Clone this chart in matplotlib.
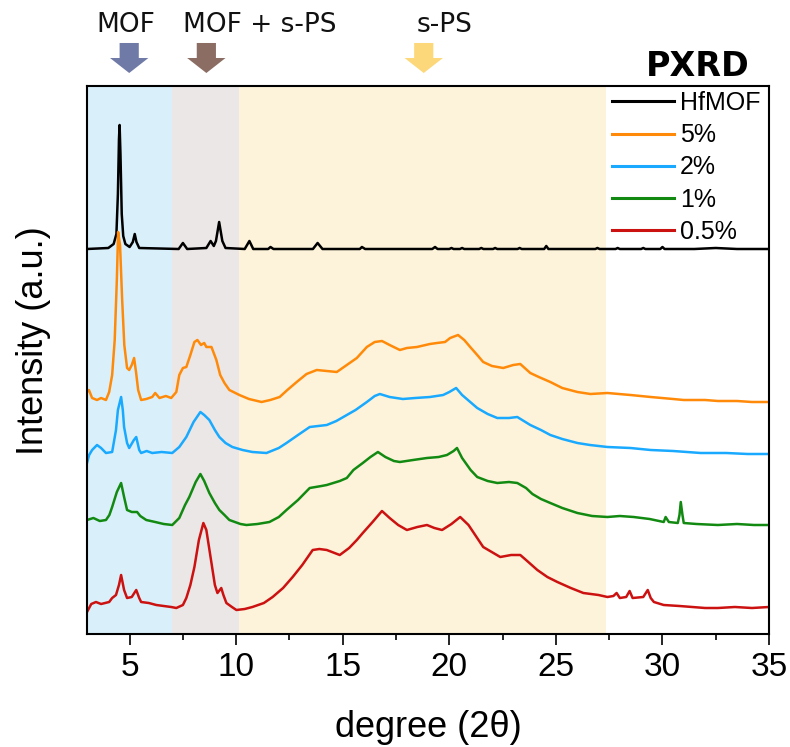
import matplotlib
matplotlib.use("Agg")
import matplotlib.pyplot as plt
from matplotlib.patches import FancyArrow
from matplotlib.ticker import MultipleLocator
import matplotlib.transforms as mtransforms

# ── Data (2θ in degrees, intensity in a.u., offset traces) ──

hfmof_x = [3.0, 4.0, 4.25, 4.38, 4.45, 4.5, 4.53, 4.57, 4.63, 4.7, 4.8, 5.0,
           5.15, 5.24, 5.32, 5.45, 7.3, 7.5, 7.7, 8.6, 8.8, 8.95, 9.05, 9.2,
           9.35, 9.5, 10.4, 10.62, 10.8, 11.5, 11.61, 11.75, 13.6, 13.82, 14.05,
           15.8, 15.9, 16.05, 19.2, 19.33, 19.45, 20.0, 20.1, 20.2, 20.5, 20.6,
           20.7, 21.4, 21.5, 21.6, 22.05, 22.15, 22.25, 23.2, 23.3, 23.4, 24.45,
           24.55, 24.65, 26.85, 26.95, 27.05, 27.8, 27.9, 28.0, 29.0, 29.1, 29.2,
           29.9, 30.0, 30.1, 31.5, 32.5, 33.5, 35.0]
hfmof_y = [385, 386, 390, 400, 440, 495, 509, 480, 420, 398, 390, 387,
           392, 400, 392, 386, 385, 391, 385, 386, 393, 388, 393, 412,
           393, 386, 385, 393, 385, 385, 387, 385, 385, 391, 385,
           385, 387, 385, 385, 387, 385, 385, 386, 385, 385, 386,
           385, 385, 386, 385, 385, 386, 385, 385, 386, 385, 385,
           388, 385, 385, 386, 385, 385, 386, 385, 385, 386, 385,
           385, 387, 385, 385, 386, 385, 385]

pct5_x = [3.0, 3.09, 3.24, 3.47, 3.66, 3.89, 4.04, 4.18, 4.3, 4.4, 4.46, 4.55,
          4.65, 4.75, 4.88, 4.98, 5.1, 5.21, 5.3, 5.4, 5.54, 5.78, 6.06, 6.2,
          6.4, 6.7, 6.95, 7.19, 7.33, 7.5, 7.66, 7.85, 8.04, 8.18, 8.35, 8.5,
          8.6, 8.84, 9.07, 9.25, 9.45, 9.68, 10.15, 10.6, 11.19, 11.6, 12.04,
          12.4, 12.84, 13.3, 13.78, 14.25, 14.72, 15.19, 15.66, 16.13, 16.5,
          16.84, 17.2, 17.68, 18.01, 18.48, 19.09, 19.42, 19.8, 20.04, 20.41,
          20.7, 20.98, 21.31, 21.59, 22.0, 22.53, 23.0, 23.33, 23.8, 24.2,
          24.74, 25.3, 26.01, 26.62, 27.42, 28.5, 29.45, 30.5, 31.0, 32.0,
          32.6, 33.5, 34.2, 35.0]
pct5_y = [242, 244, 236, 234, 236, 234, 242, 259, 294, 354, 402, 389,
          334, 289, 266, 264, 269, 276, 262, 244, 234, 235, 237, 241,
          236, 238, 236, 242, 259, 266, 267, 279, 292, 294, 289, 291,
          287, 287, 274, 259, 251, 244, 239, 235, 232, 234, 237,
          244, 252, 260, 264, 263, 262, 269, 276, 287, 292,
          293, 289, 284, 286, 287, 290, 291, 292, 296, 299,
          294, 287, 279, 272, 268, 266, 269, 270, 261, 257,
          252, 246, 242, 240, 241, 239, 237, 235, 234, 234,
          233, 233, 232, 232]

pct2_x = [3.0, 3.1, 3.24, 3.47, 3.66, 3.89, 4.18, 4.36, 4.45, 4.6, 4.68, 4.74,
          4.88, 4.98, 5.2, 5.31, 5.45, 5.54, 5.8, 6.06, 6.5, 7.0, 7.33, 7.66,
          8.0, 8.32, 8.5, 8.74, 9.0, 9.21, 9.5, 9.82, 10.3, 10.76, 11.42, 12.0,
          12.36, 12.9, 13.45, 14.25, 14.7, 15.19, 15.6, 16.13, 16.5, 16.74,
          17.2, 17.82, 18.4, 19.09, 19.71, 20.0, 20.32, 20.6, 21.31, 21.8,
          22.25, 22.8, 23.19, 23.8, 24.3, 24.74, 25.3, 26.01, 26.6, 27.42,
          28.5, 29.45, 30.5, 31.8, 33.0, 34.0, 35.0]
pct2_y = [171, 179, 184, 189, 186, 181, 182, 204, 224, 237, 224, 207,
          191, 186, 194, 197, 184, 181, 183, 181, 182, 181, 187, 197,
          212, 222, 219, 214, 204, 197, 191, 187, 184, 182, 181, 186,
          191, 199, 207, 209, 213, 219, 224, 232, 238, 240,
          237, 235, 236, 237, 239, 242, 246, 239, 226, 220,
          216, 216, 217, 209, 204, 199, 195, 191, 189, 187,
          186, 184, 183, 181, 181, 180, 180]

pct1_x = [3.0, 3.3, 3.6, 3.89, 4.05, 4.18, 4.4, 4.6, 4.74, 4.88, 5.1, 5.35,
          5.5, 5.78, 6.2, 6.6, 7.0, 7.33, 7.6, 7.8, 8.1, 8.32, 8.5, 8.74, 9.0,
          9.21, 9.45, 9.68, 10.2, 10.48, 11.0, 11.56, 12.0, 12.36, 12.9, 13.45,
          14.0, 14.25, 14.86, 15.19, 15.5, 15.94, 16.3, 16.65, 17.0, 17.4,
          17.68, 18.3, 18.95, 19.5, 19.89, 20.2, 20.36, 20.6, 21.0, 21.31,
          21.8, 22.25, 22.8, 23.19, 23.6, 23.9, 24.3, 24.74, 25.3, 26.01,
          26.7, 27.42, 28.0, 28.65, 29.4, 30.06, 30.15, 30.3, 30.72, 30.8,
          30.86, 30.94, 31.0, 31.6, 32.6, 33.5, 34.3, 35.0]
pct1_y = [114, 116, 113, 114, 119, 127, 142, 151, 137, 124, 122, 122,
          118, 114, 112, 110, 109, 116, 129, 137, 152, 160, 153, 141, 131,
          124, 119, 114, 110, 109, 110, 112, 117, 124, 134, 146,
          148, 149, 153, 156, 164, 171, 177, 182, 177, 173,
          172, 174, 176, 177, 179, 183, 186, 176, 164, 157,
          153, 151, 152, 151, 146, 140, 135, 131, 126, 121,
          118, 117, 118, 117, 115, 112, 117, 112, 111, 119,
          132, 119, 111, 110, 109, 110, 109, 109]

pct05_x = [3.0, 3.2, 3.42, 3.66, 3.85, 4.04, 4.18, 4.36, 4.5, 4.6, 4.74, 4.88,
           5.1, 5.31, 5.45, 5.54, 5.9, 6.25, 6.6, 6.95, 7.19, 7.5, 7.66, 7.85,
           8.04, 8.25, 8.46, 8.6, 8.84, 9.0, 9.12, 9.3, 9.4, 9.54, 9.8, 10.01,
           10.4, 10.76, 11.3, 11.71, 12.2, 12.65, 13.1, 13.59, 13.9, 14.25,
           14.86, 15.3, 15.66, 15.94, 16.4, 16.84, 17.2, 17.6, 18.01, 18.5,
           18.95, 19.3, 19.66, 20.1, 20.51, 20.9, 21.59, 22.39, 22.9, 23.33,
           23.6, 24.13, 24.6, 25.07, 25.7, 26.29, 27.0, 27.42, 27.7, 27.85,
           28.0, 28.3, 28.46, 28.6, 29.1, 29.31, 29.45, 29.6, 30.06, 30.8,
           31.4, 32.0, 32.6, 33.4, 34.2, 35.0]
pct05_y = [22, 30, 32, 30, 31, 32, 36, 39, 49, 59, 44, 36,
           37, 44, 36, 32, 31, 29, 28, 27, 26, 29, 36, 49,
           67, 94, 111, 104, 71, 49, 41, 46, 39, 31, 27, 24,
           25, 27, 31, 37, 46, 57, 69, 84, 85, 84,
           79, 86, 94, 101, 112, 123, 116, 109, 104, 107,
           109, 106, 104, 110, 117, 109, 87, 77, 79, 79,
           74, 64, 57, 52, 46, 41, 39, 37, 38, 41,
           36, 37, 43, 36, 37, 44, 36, 32, 29, 28,
           27, 26, 26, 27, 26, 27]

series = [
    ("HfMOF", hfmof_x, hfmof_y, "#000000"),
    ("5%", pct5_x, pct5_y, "#ff8a0a"),
    ("2%", pct2_x, pct2_y, "#19a9ff"),
    ("1%", pct1_x, pct1_y, "#128a12"),
    ("0.5%", pct05_x, pct05_y, "#cc1111"),
]

# shaded regions (2θ ranges) and the arrow markers above them
regions = [(3.0, 7.0, "#d9f0fa"), (7.0, 10.15, "#ebe7e6"), (10.15, 27.35, "#fdf3da")]
arrow_x = [4.98, 8.6, 18.8]
arrow_colors = ["#6f7ba6", "#8b6d63", "#fcd87a"]
region_labels = [(4.8, "MOF"), (11.1, "MOF + s-PS"), (19.8, "s-PS")]

# ── Figure ────────────────────────────────────────────────────────────────────

fig = plt.figure(figsize=(7.9, 7.47), dpi=100)
ax = fig.add_axes([87 / 790, 1 - 634 / 747, 682 / 790, 548 / 747])

for x0, x1, c in regions:
    ax.axvspan(x0, x1, color=c, lw=0, zorder=0)

for label, xs, ys, c in series:
    ax.plot(xs, ys, color=c, lw=1.8, label=label, zorder=2)

ax.set_xlim(3, 35)
ax.set_ylim(0, 548)
ax.set_yticks([])
ax.xaxis.set_major_locator(MultipleLocator(5))
ax.xaxis.set_minor_locator(MultipleLocator(2.5))
ax.tick_params(axis="x", which="major", direction="out", length=8, width=1.2,
               labelsize=24, pad=5)
ax.tick_params(axis="x", which="minor", direction="out", length=4.5, width=1.2)
for lab in ax.get_xticklabels():
    lab.set_family("Liberation Sans")
for sp in ax.spines.values():
    sp.set_linewidth(1.5)

ax.set_xlabel("degree (2θ)", fontsize=26, family="Liberation Sans", va="top")
ax.xaxis.set_label_coords(0.5, -0.138)
ax.set_ylabel("Intensity (a.u.)", fontsize=26, family="Liberation Sans",
              va="center")
ax.yaxis.set_label_coords(-0.078, 0.536)

leg = ax.legend(loc="upper left", bbox_to_anchor=(0.763, 1.0), frameon=False,
                borderpad=0, borderaxespad=0.2, handlelength=2.45,
                handletextpad=0.25, labelspacing=0.33,
                prop={"family": "Liberation Sans", "size": 18})
for h in leg.get_lines():
    h.set_linewidth(2.2)

# arrows and labels above the axes
trans = mtransforms.blended_transform_factory(ax.transData, ax.transAxes)
for xc, c in zip(arrow_x, arrow_colors):
    arr = FancyArrow(xc, 1.0785, 0, -0.0548, width=0.9, head_width=1.8,
                     head_length=0.0274, length_includes_head=True,
                     color=c, lw=0, transform=trans, clip_on=False)
    ax.add_patch(arr)
for xc, txt in region_labels:
    ax.text(xc, 1.112, txt, transform=trans, ha="center", va="center",
            fontsize=19, family="DejaVu Sans", color="#111111", clip_on=False)

ax.text(31.65, 1.036, "PXRD", transform=trans, ha="center", va="center",
        fontsize=24, fontweight="bold", family="DejaVu Sans", clip_on=False)

fig.savefig("out.png", dpi=100)
